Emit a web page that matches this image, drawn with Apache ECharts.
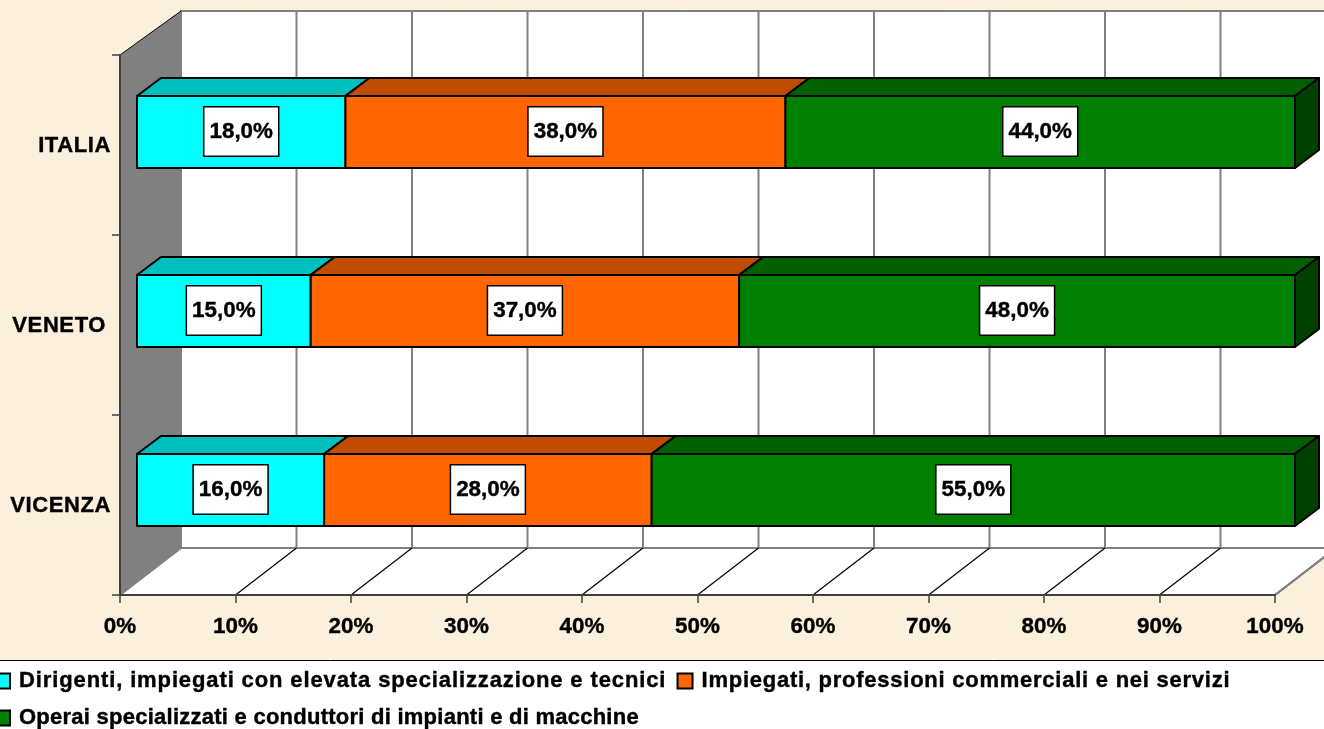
<!DOCTYPE html>
<html><head><meta charset="utf-8">
<style>
html,body{margin:0;padding:0;width:1324px;height:729px;overflow:hidden;background-color:#FBF0DC;}
#bg{position:absolute;left:0;top:0;width:1324px;height:729px;}
#c{position:absolute;left:0;top:0;width:1324px;height:729px;}
</style>
<script src="https://cdn.jsdelivr.net/npm/echarts@6/dist/echarts.min.js"></script>
</head><body>
<svg id="bg" xmlns="http://www.w3.org/2000/svg"><filter id="t" x="0" y="0" width="100%" height="100%"><feTurbulence type="fractalNoise" baseFrequency="0.012 0.02" numOctaves="4" seed="7"/><feColorMatrix type="matrix" values="0 0 0 0 0.96  0 0 0 0 0.88  0 0 0 0 0.74  0.9 0.9 0 0 -0.72"/></filter><rect width="1324" height="729" filter="url(#t)"/></svg>
<div id="c"></div>
<script>
// The reference text is letter-spaced by its hinting: a pseudo family "ls-N" asks for N px of tracking.
(function(){
  var proto = CanvasRenderingContext2D.prototype;
  var d = Object.getOwnPropertyDescriptor(proto, 'font');
  if (!d || !('letterSpacing' in proto)) return;
  Object.defineProperty(proto, 'font', {configurable:true, get:d.get, set:function(v){
    d.set.call(this, v);
    var m = /ls-([0-9.]+)/.exec(v);
    this.letterSpacing = m ? m[1] + 'px' : '0px';
  }});
})();

var categories = ['VICENZA', 'VENETO', 'ITALIA'];
var dirigenti = [16, 15, 18];
var impiegati = [28, 37, 38];
var operai = [55, 48, 44];
var xTicks = [0, 10, 20, 30, 40, 50, 60, 70, 80, 90, 100];
var seriesNames = [
  'Dirigenti, impiegati con elevata specializzazione e tecnici',
  'Impiegati, professioni commerciali e nei servizi',
  'Operai specializzati e conduttori di impianti e di macchine'
];
var stacks = [dirigenti, impiegati, operai];
var fronts = ['#00FFFF', '#FF6600', '#008000'];
var tops = ['#00BFBF', '#BF4C00', '#006000'];
var sides = ['#009999', '#993D00', '#004000'];
var legendTracking = ['ls-0.88', 'ls-0.75', 'ls-0.25'];

var FONT = '"Liberation Sans", Arial, sans-serif';
var FS = 22.4;
var HEAVY = 0.4;
var WALL_DX = 61, WALL_DY = 47, WALL_TOP = 44;
var BAR_X = 17, BAR_UP = 49, BAR_DOWN = 23, BAR_DX = 24, BAR_DY = 18, BAR_XS = 1.0026, BAR_YS = 179 / 180;

function total(i){ return dirigenti[i] + impiegati[i] + operai[i]; }

function renderFrame(params, api){
  var cs = params.coordSys;
  var x0 = cs.x, x1 = cs.x + cs.width, y0 = cs.y, y1 = cs.y + cs.height;
  return {type:'group', children:[
    {type:'polygon', shape:{points:[[x0+WALL_DX,y0-WALL_TOP],[x1+WALL_DX,y0-WALL_TOP],[x1+WALL_DX,y1-WALL_DY],[x0+WALL_DX,y1-WALL_DY]]},
      style:{fill:'#FFFFFF',stroke:'#808080',lineWidth:2}},
    {type:'polygon', shape:{points:[[x0,y1],[x0+WALL_DX,y1-WALL_DY],[x1+WALL_DX,y1-WALL_DY],[x1,y1]]},
      style:{fill:'#FFFFFF',stroke:'#808080',lineWidth:2}},
    {type:'polygon', shape:{points:[[x0,y0],[x0+WALL_DX,y0-WALL_TOP],[x0+WALL_DX,y1-WALL_DY],[x0,y1]]},
      style:{fill:'#808080'}},
    {type:'line', shape:{x1:x0,y1:y0,x2:x0+WALL_DX,y2:y0-WALL_TOP}, style:{stroke:'#000000',lineWidth:1}}
  ]};
}
function renderGrid(params, api){
  var cs = params.coordSys;
  var p = api.coord([api.value(0), 0]);
  var y0 = cs.y, y1 = cs.y + cs.height;
  var kids = [];
  if (api.value(0) > 0) {
    kids.push({type:'line', shape:{x1:p[0]+WALL_DX,y1:y0-WALL_TOP,x2:p[0]+WALL_DX,y2:y1-WALL_DY}, style:{stroke:'#808080',lineWidth:2}});
    kids.push({type:'line', shape:{x1:p[0],y1:y1,x2:p[0]+WALL_DX,y2:y1-WALL_DY}, style:{stroke: api.value(0) < 100 ? '#000000' : '#808080', lineWidth: api.value(0) < 100 ? 1.2 : 2}});
  }
  return {type:'group', children:kids};
}
function makeRender(s){
  return function(params, api){
    var cs = params.coordSys;
    var v = api.value(0), c = api.value(1);
    var before = 0;
    for (var k = 0; k < s; k++) before += stacks[k][c];
    var a = api.coord([before / total(c) * 100, c]);
    var b = api.coord([(before + v) / total(c) * 100, c]);
    var xa = cs.x + BAR_X + (a[0] - cs.x) * BAR_XS, xb = cs.x + BAR_X + (b[0] - cs.x) * BAR_XS;
    var yc = cs.y + (a[1] - cs.y) * BAR_YS + 0.5;
    var yt = yc - BAR_UP, yb = yc + BAR_DOWN;
    function S(f){ return {fill:f, stroke:'#000000', lineWidth:2, lineJoin:'round'}; }
    return {type:'group', children:[
      {type:'polygon', z2:s*3+1, shape:{points:[[xa,yt],[xa+BAR_DX,yt-BAR_DY],[xb+BAR_DX,yt-BAR_DY],[xb,yt]]}, style:S(tops[s])},
      {type:'polygon', z2:s*3+1, shape:{points:[[xb,yt],[xb+BAR_DX,yt-BAR_DY],[xb+BAR_DX,yb-BAR_DY],[xb,yb]]}, style:S(sides[s])},
      {type:'rect', z2:s*3+2, shape:{x:xa,y:yt,width:xb-xa,height:yb-yt}, style:S(fronts[s])},
      {type:'text', z2:100, x:(xa+xb)/2, y:(yt+yb)/2-0.5, style:{
        text:v.toFixed(1).replace('.',',')+'%', fill:'#000000', font:'bold '+FS+'px '+FONT,
        stroke:'#000000', lineWidth:HEAVY,
        align:'center', verticalAlign:'middle',
        backgroundColor:'#FFFFFF', borderColor:'#000000', borderWidth:1.5, padding:[13,5,13,5]
      }}
    ]};
  };
}

var series = [
  {type:'custom', name:'frame', silent:true, z:1, data:[[0,0]], renderItem:renderFrame, clip:false},
  {type:'custom', name:'grid', silent:true, z:1, data:xTicks.map(function(t){return [t,0];}), renderItem:renderGrid, clip:false}
];
stacks.forEach(function(vals, s){
  series.push({type:'custom', name:seriesNames[s], z:3, clip:false, renderItem:makeRender(s),
    itemStyle:{color:fronts[s], borderColor:'#000000', borderWidth:1.5},
    data:vals.map(function(v,i){return [v,i];})});
});

var legendText = {color:'#000',fontWeight:'bold',fontSize:22,lineHeight:24,padding:[3,0,0,4],textBorderColor:'#000',textBorderWidth:HEAVY};
var catToken = {color:'#000',fontFamily:'"Liberation Sans", "ls-0.6"',fontWeight:'bold',fontSize:22,textBorderColor:'#000',textBorderWidth:HEAVY};
var chart = echarts.init(document.getElementById('c'), null, {renderer:'canvas'});
chart.setOption({
  animation:false,
  backgroundColor:'transparent',
  grid:{left:120, right:49, top:55, bottom:134, containLabel:false},
  xAxis:{type:'value', min:0, max:100, interval:10, z:6,
    axisLine:{show:true,lineStyle:{color:'#404040',width:2}},
    axisTick:{show:true,length:8,lineStyle:{color:'#404040',width:1.5}},
    splitLine:{show:false},
    axisLabel:{color:'#000',fontFamily:FONT,fontWeight:'bold',fontSize:FS,margin:21,formatter:'{value}%',hideOverlap:false,textBorderColor:'#000',textBorderWidth:HEAVY}
  },
  yAxis:{type:'category', data:categories, z:6,
    axisLine:{show:true,lineStyle:{color:'#404040',width:2}},
    axisTick:{show:true,length:8,alignWithLabel:false,lineStyle:{color:'#404040',width:1.5}},
    splitLine:{show:false},
    axisLabel:{margin:9, formatter:function(v){ return (v === 'VENETO' ? '{w|' : '{n|') + v + '}'; },
      rich:{
        n:Object.assign({padding:[2,0,0,0]}, catToken),
        w:Object.assign({padding:[2,5,0,0]}, catToken)
      }}
  },
  legend:{left:-6, top:667.5, width:1320, padding:0, orient:'horizontal', align:'left', selectedMode:false,
    data:seriesNames.map(function(n,i){
      return {name:n, textStyle:Object.assign({fontFamily:'"Liberation Sans", "'+legendTracking[i]+'"'}, legendText)};
    }),
    icon:'rect', itemWidth:15, itemHeight:15, itemGap:10,
    textStyle:legendText
  },
  graphic:[{type:'rect', z:0, shape:{x:-2,y:660.5,width:1330,height:75}, style:{fill:'#FFFFFF',stroke:'#000000',lineWidth:1}}],
  series:series
});
</script>
</body></html>
